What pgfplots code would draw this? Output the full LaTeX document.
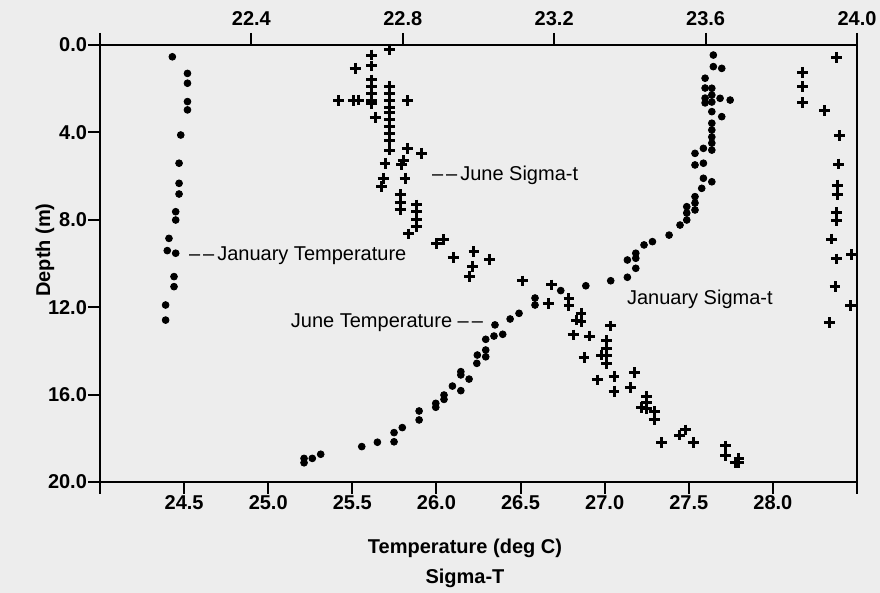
\documentclass[border=0pt]{standalone}
\usepackage{pgfplots}
\pgfplotsset{compat=1.18}
\usepackage{fontspec}
\setmainfont{Liberation Sans}
\begin{document}
\begin{tikzpicture}
\useasboundingbox (-50pt,-55.5pt) rectangle (390pt,241pt);
\fill[black!7] (-50pt,-55.5pt) rectangle (390pt,241pt);
\pgfplotsset{
  common/.style={
    scale only axis, width=378.5pt, height=218.5pt,
    ymin=0, ymax=20, y dir=reverse, clip=false,
    axis line style={line width=1pt},
    tick style={line width=1pt, black},
    tick align=outside, major tick length=6pt,
    tick label style={font=\bfseries},
  },
  dots/.style={only marks, mark=*, mark size=1.7pt, black},
  plus/.style={only marks, mark=+, mark size=2.7pt, black, mark options={line width=1.5pt}},
}
\begin{axis}[common, xmin=24, xmax=28.5,
  axis x line*=bottom, axis y line*=left,
  xtick={24,24.5,25,25.5,26,26.5,27,27.5,28,28.5},
  xticklabels={{},24.5,25.0,25.5,26.0,26.5,27.0,27.5,28.0,{}},
  xticklabel style={yshift=3pt},
  ytick={0,4,8,12,16,20},
  yticklabels={0.0,4.0,8.0,12.0,16.0,20.0},
  yticklabel style={xshift=3pt}]
% January Temperature
\addplot[dots] coordinates {
(24.43,0.54) (24.52,1.30) (24.52,1.75) (24.52,2.59) (24.52,2.97)
(24.48,4.12) (24.47,5.41) (24.47,6.33) (24.47,6.82) (24.45,7.63)
(24.45,8.01) (24.41,8.85) (24.40,9.41) (24.45,9.53) (24.44,10.60)
(24.44,11.06) (24.39,11.90) (24.39,12.59)};
% June Temperature
\addplot[dots] coordinates {
(27.646,0.46) (27.646,0.99) (27.696,1.07) (27.597,1.52) (27.597,1.97)
(27.597,2.43) (27.597,2.65) (27.637,1.98) (27.637,2.29) (27.637,2.61)
(27.637,3.05) (27.686,2.44) (27.746,2.52) (27.696,3.28) (27.637,3.58)
(27.637,3.89) (27.637,4.21) (27.637,4.49) (27.637,4.81) (27.587,4.73)
(27.537,4.96) (27.587,5.41) (27.537,5.49) (27.587,6.10) (27.637,6.26)
(27.577,6.56) (27.537,6.94) (27.537,7.23) (27.537,7.55) (27.488,7.40)
(27.488,7.69) (27.488,8.01) (27.448,8.24) (27.383,8.70) (27.284,9.00)
(27.234,9.15) (27.185,9.53) (27.185,9.76) (27.135,9.84) (27.185,10.22)
(27.135,10.63) (27.036,10.79) (26.888,11.02) (26.739,11.24) (26.586,11.58)
(26.586,11.90) (26.491,12.28) (26.438,12.54) (26.348,12.81) (26.394,13.24)
(26.342,13.32) (26.293,13.47) (26.293,13.96) (26.293,14.27) (26.243,14.19)
(26.240,14.57) (26.145,14.95) (26.145,15.10) (26.194,15.29) (26.095,15.61)
(26.145,15.82) (26.045,16.02) (26.045,16.22) (25.996,16.40) (25.996,16.58)
(25.897,16.75) (25.897,17.16) (25.797,17.51) (25.748,17.74) (25.748,18.16)
(25.649,18.18) (25.556,18.38) (25.312,18.73) (25.262,18.92) (25.213,18.92)
(25.213,19.12)};
\end{axis}
\begin{axis}[common, xmin=22, xmax=24,
  axis x line*=top, axis y line*=right, ytick=\empty,
  xtick={22,22.4,22.8,23.2,23.6,24},
  xticklabels={{},22.4,22.8,23.2,23.6,24.0}]
% January Sigma-t
\addplot[plus] coordinates {
(23.946,0.56) (23.856,1.25) (23.856,1.91) (23.856,2.64) (23.914,3.01)
(23.953,4.16) (23.951,5.45) (23.948,6.41) (23.948,6.86) (23.946,7.68)
(23.946,8.04) (23.933,8.88) (23.986,9.58) (23.946,9.79) (23.942,11.06)
(23.983,11.93) (23.927,12.71)};
% June Sigma-t
\addplot[plus] coordinates {
(22.764,0.20) (22.718,0.46) (22.674,1.07) (22.718,0.96) (22.718,1.60)
(22.718,1.92) (22.718,2.20) (22.718,2.52) (22.718,2.67) (22.630,2.55)
(22.669,2.55) (22.682,2.52) (22.727,3.31) (22.764,1.91) (22.764,2.20)
(22.764,2.52) (22.764,2.84) (22.764,3.11) (22.764,3.43) (22.764,3.75)
(22.764,4.03) (22.764,4.35) (22.764,4.81) (22.812,2.55) (22.812,4.73)
(22.850,4.96) (22.753,5.41) (22.797,5.49) (22.801,5.30) (22.748,6.10)
(22.744,6.49) (22.806,6.10) (22.793,6.86) (22.793,7.21) (22.793,7.55)
(22.837,7.32) (22.837,7.64) (22.837,7.99) (22.837,8.32) (22.815,8.65)
(22.889,9.08) (22.907,8.92) (22.933,9.72) (22.988,9.46) (23.030,9.81)
(22.984,10.15) (22.976,10.60) (23.116,10.80) (23.193,10.98) (23.184,11.82)
(23.239,11.62) (23.239,11.93) (23.271,12.28) (23.271,12.66) (23.259,12.59)
(23.349,12.86) (23.250,13.27) (23.293,13.32) (23.339,13.53) (23.339,13.87)
(23.339,14.19) (23.339,14.57) (23.325,14.19) (23.279,14.31) (23.314,15.33)
(23.358,15.18) (23.413,15.00) (23.358,15.84) (23.402,15.67) (23.444,16.10)
(23.444,16.38) (23.444,16.63) (23.431,16.58) (23.464,16.78) (23.464,17.16)
(23.546,17.62) (23.532,17.85) (23.484,18.20) (23.567,18.20) (23.653,18.35)
(23.653,18.81) (23.688,18.92) (23.688,19.12) (23.678,19.12)};
\end{axis}
\node[font=\bfseries] at (182.5pt,-33pt) {Temperature (deg C)};
\node[font=\bfseries] at (182.5pt,-48pt) {Sigma-T};
\node[font=\bfseries, rotate=90] at (-27.5pt,116pt) {Depth (m)};
\node[anchor=west] at (41pt,113pt) {--\kern1.5pt--\kern1.5pt January Temperature};
\node[anchor=west] at (162.5pt,153.5pt) {--\kern1.5pt--\kern1.5pt June Sigma-t};
\node[anchor=east] at (195pt,79.5pt) {June Temperature --\kern1.5pt--};
\node[anchor=west] at (260pt,91.5pt) {January Sigma-t};
\end{tikzpicture}
\end{document}
